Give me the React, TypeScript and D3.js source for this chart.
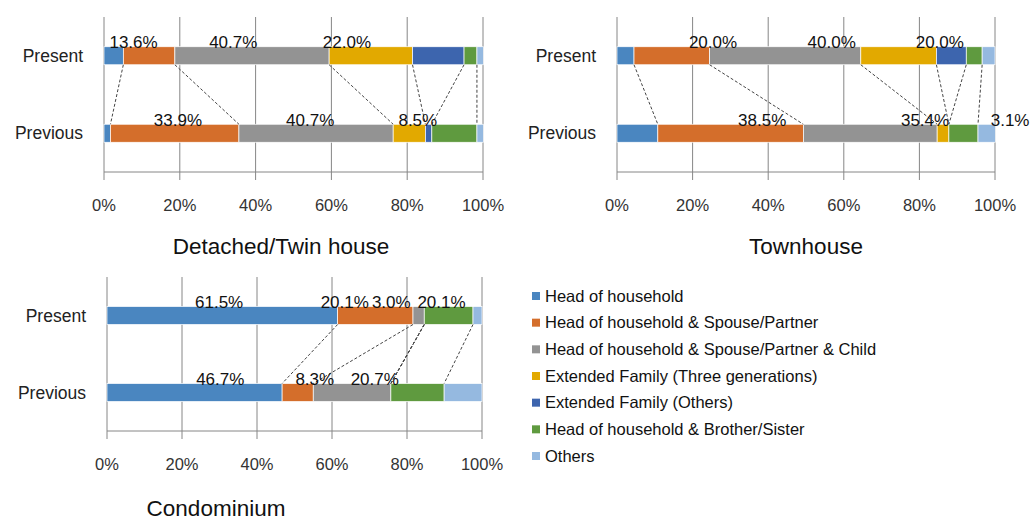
import * as d3 from "d3";

// legend / series names and colours
const seriesNames = [
  "Head of household",
  "Head of household & Spouse/Partner",
  "Head of household & Spouse/Partner & Child",
  "Extended Family (Three generations)",
  "Extended Family (Others)",
  "Head of household & Brother/Sister",
  "Others",
];
const seriesColors = ["#4a86c0", "#d46e2b", "#939393", "#e2a900", "#3d65ae", "#5f9a3f", "#95b9e0"];

const categories = ["Present", "Previous"];
const ticks = [0, 20, 40, 60, 80, 100];

// percentages per series, in the order of seriesNames
const detachedPresent = [5.1, 13.6, 40.7, 22.0, 13.6, 3.4, 1.7];
const detachedPrevious = [1.7, 33.9, 40.7, 8.5, 1.7, 11.9, 1.7];
const townPresent = [4.5, 20.0, 40.0, 20.0, 7.9, 4.2, 3.4];
const townPrevious = [10.8, 38.5, 35.4, 3.1, 0, 7.7, 4.6];
const condoPresent = [61.5, 20.1, 3.0, 0, 0, 13.0, 2.4];
const condoPrevious = [46.7, 8.3, 20.7, 0, 0, 14.2, 10.1];

// data labels as they stand in the picture (text + where they sit, in % of the axis)
const detachedPresentLabels = ["13.6%", "40.7%", "22.0%"];
const detachedPresentLabelAt = [7.8, 34.1, 64.1];
const detachedPreviousLabels = ["33.9%", "40.7%", "8.5%"];
const detachedPreviousLabelAt = [19.5, 54.4, 82.8];
const townPresentLabels = ["20.0%", "40.0%", "20.0%"];
const townPresentLabelAt = [25.4, 56.8, 85.4];
const townPreviousLabels = ["38.5%", "35.4%", "3.1%"];
const townPreviousLabelAt = [38.4, 81.5, 104];
const condoPresentLabels = ["61.5%", "20.1%", "3.0%", "20.1%"];
const condoPresentLabelAt = [29.9, 63.4, 75.8, 89.2];
const condoPreviousLabels = ["46.7%", "8.3%", "20.7%"];
const condoPreviousLabelAt = [30.2, 55.4, 71.4];

const FONT = "'Liberation Sans', Arial, sans-serif";

type PanelProps = {
  title: string;
  x0: number;
  x1: number;
  top: number;
  axisY: number;
  titleX: number;
  titleY: number;
  present: number[];
  previous: number[];
  presentLabels: string[];
  presentLabelAt: number[];
  previousLabels: string[];
  previousLabelAt: number[];
};

function Panel(p: PanelProps) {
  const x = d3.scaleLinear().domain([0, 100]).range([p.x0, p.x1]);
  const y = d3.scalePoint<string>().domain(categories).range([p.top, p.axisY]).padding(0.5);
  const barH = 18;

  const stack = (vals: number[]) => {
    const cum = d3.cumsum(vals);
    return vals.map((v, i) => ({ start: cum[i] - v, end: cum[i], v, i }));
  };
  const rows = [stack(p.present), stack(p.previous)];
  const yPres = y("Present")!;
  const yPrev = y("Previous")!;

  // series lines joining the segment ends of both bars
  const joins = d3.range(seriesNames.length - 1).map((i) => ({
    a: rows[0][i].end,
    b: rows[1][i].end,
  }));

  const labelSets = [
    { txt: p.presentLabels, at: p.presentLabelAt, cy: yPres },
    { txt: p.previousLabels, at: p.previousLabelAt, cy: yPrev },
  ];

  return (
    <g>
      {ticks.map((t) => (
        <line key={t} x1={x(t)} x2={x(t)} y1={p.top} y2={p.axisY + 8} stroke="#868686" strokeWidth={1} />
      ))}
      <line x1={p.x0} x2={p.x1} y1={p.axisY} y2={p.axisY} stroke="#868686" strokeWidth={1} />
      {ticks.map((t) => (
        <text key={t} x={x(t)} y={p.axisY + 39} textAnchor="middle" fontSize={16.5} fill="#333" fontFamily={FONT}>
          {t}%
        </text>
      ))}
      {categories.map((c) => (
        <text key={c} x={p.x0 - 21} y={y(c)!} dy="0.35em" textAnchor="end" fontSize={17.5} fill="#222" fontFamily={FONT}>
          {c}
        </text>
      ))}
      {rows.map((row, r) =>
        row
          .filter((d) => d.v > 0)
          .map((d) => (
            <rect
              key={r + "-" + d.i}
              x={x(d.start)}
              width={x(d.end) - x(d.start)}
              y={(r === 0 ? yPres : yPrev) - barH / 2}
              height={barH}
              fill={seriesColors[d.i]}
              stroke="#ffffff"
              strokeWidth={0.7}
            />
          ))
      )}
      {joins.map((j, i) => (
        <line
          key={i}
          x1={x(j.a)}
          y1={yPres + barH / 2}
          x2={x(j.b)}
          y2={yPrev - barH / 2}
          stroke="#444"
          strokeWidth={1}
          strokeDasharray="3,2"
        />
      ))}
      {labelSets.map((s, r) =>
        s.txt.map((t, i) => (
          <text
            key={r + "-" + i}
            x={x(s.at[i])}
            y={s.cy - barH / 2 + 1.5}
            textAnchor="middle"
            fontSize={17}
            fill="#111"
            fontFamily={FONT}
          >
            {t}
          </text>
        ))
      )}
      <text x={p.titleX} y={p.titleY} textAnchor="middle" fontSize={22.5} fill="#111" fontFamily={FONT}>
        {p.title}
      </text>
    </g>
  );
}

export default function App() {
  const legendY = d3.scaleLinear().domain([0, seriesNames.length - 1]).range([296, 456]);
  return (
    <svg
      width={1032}
      height={523}
      viewBox="0 0 1032 523"
      style={{ position: "absolute", left: 0, top: 0, background: "#fff" }}
    >
      <rect width={1032} height={523} fill="#fff" />
      <Panel
        title="Detached/Twin house"
        x0={104}
        x1={483}
        top={17}
        axisY={172}
        titleX={281}
        titleY={254}
        present={detachedPresent}
        previous={detachedPrevious}
        presentLabels={detachedPresentLabels}
        presentLabelAt={detachedPresentLabelAt}
        previousLabels={detachedPreviousLabels}
        previousLabelAt={detachedPreviousLabelAt}
      />
      <Panel
        title="Townhouse"
        x0={617}
        x1={995}
        top={17}
        axisY={172}
        titleX={806}
        titleY={254}
        present={townPresent}
        previous={townPrevious}
        presentLabels={townPresentLabels}
        presentLabelAt={townPresentLabelAt}
        previousLabels={townPreviousLabels}
        previousLabelAt={townPreviousLabelAt}
      />
      <Panel
        title="Condominium"
        x0={107}
        x1={482}
        top={277}
        axisY={431}
        titleX={216}
        titleY={516}
        present={condoPresent}
        previous={condoPrevious}
        presentLabels={condoPresentLabels}
        presentLabelAt={condoPresentLabelAt}
        previousLabels={condoPreviousLabels}
        previousLabelAt={condoPreviousLabelAt}
      />
      {seriesNames.map((s, i) => (
        <g key={s} transform={`translate(532,${legendY(i)})`}>
          <rect x={0} y={-4} width={8} height={8} fill={seriesColors[i]} />
          <text x={13} y={0} dy="0.35em" fontSize={16.5} fill="#111" fontFamily={FONT}>
            {s}
          </text>
        </g>
      ))}
    </svg>
  );
}
